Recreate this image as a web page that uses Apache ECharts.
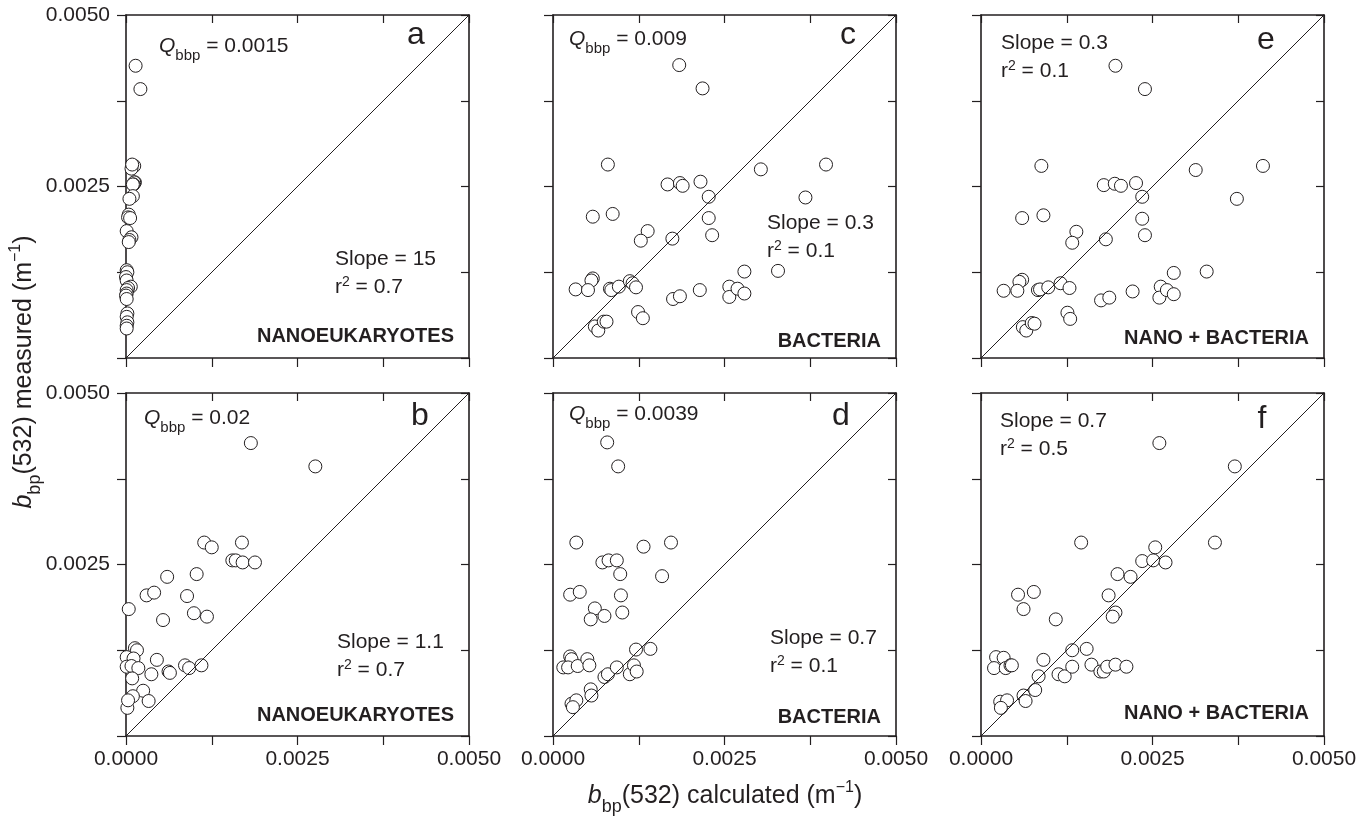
<!DOCTYPE html>
<html>
<head>
<meta charset="utf-8">
<title>bbp(532) measured vs calculated</title>
<script src="https://cdn.jsdelivr.net/npm/echarts@6/dist/echarts.min.js"></script>
<style>
  html, body { margin: 0; padding: 0; background: #fff; }
  #main { width: 1363px; height: 816px; }
</style>
</head>
<body>
<div id="main"></div>
<script>
// shared axis range for every panel (m^-1)
const axisRange = [0, 0.005];
const tickStep = 0.00125;
const oneToOne = [[0, 0], [0.005, 0.005]];

// [calculated, measured]
const nanoA = [
  [0.00014, 0.00426], [0.00021, 0.00392], [0.00012, 0.00280], [0.00008, 0.00276], [0.00009, 0.00282],
  [0.00013, 0.00256], [0.00012, 0.00256], [0.00011, 0.00253], [0.00010, 0.00253], [0.00010, 0.00236],
  [0.00005, 0.00232], [0.00004, 0.00209], [0.00003, 0.00205], [0.00006, 0.00204], [0.00001, 0.00185],
  [0.00008, 0.00176], [0.00005, 0.00172], [0.00004, 0.00169], [0.00001, 0.00128], [0.00002, 0.00125],
  [0.00000, 0.00118], [0.00001, 0.00113], [0.00007, 0.00104], [0.00003, 0.00102], [0.00001, 0.00099],
  [0.00001, 0.00094], [0.00000, 0.00091], [0.00001, 0.00086], [0.00002, 0.00065], [0.00001, 0.00060],
  [0.00002, 0.00052], [0.00001, 0.00047], [0.00001, 0.00043]
];
const nanoB = [
  [0.00182, 0.00427], [0.00276, 0.00393], [0.00114, 0.00282], [0.00125, 0.00275], [0.00169, 0.00282],
  [0.00155, 0.00256], [0.00160, 0.00256], [0.00170, 0.00253], [0.00188, 0.00253], [0.00060, 0.00232],
  [0.00103, 0.00236], [0.00030, 0.00205], [0.00041, 0.00209], [0.00089, 0.00204], [0.00004, 0.00185],
  [0.00099, 0.00179], [0.00118, 0.00174], [0.00054, 0.00169], [0.00013, 0.00128], [0.00016, 0.00125],
  [0.00001, 0.00115], [0.00011, 0.00113], [0.00001, 0.00101], [0.00008, 0.00102], [0.00018, 0.00099],
  [0.00045, 0.00111], [0.00037, 0.00090], [0.00062, 0.00094], [0.00064, 0.00092], [0.00086, 0.00103],
  [0.00092, 0.00099], [0.00110, 0.00103], [0.00009, 0.00084], [0.00025, 0.00066], [0.00010, 0.00058],
  [0.00033, 0.00051], [0.00002, 0.00041], [0.00003, 0.00052]
];
const bactC = [
  [0.00184, 0.00427], [0.00218, 0.00393], [0.00080, 0.00282], [0.00303, 0.00275], [0.00398, 0.00282],
  [0.00167, 0.00253], [0.00185, 0.00255], [0.00189, 0.00251], [0.00215, 0.00257], [0.00227, 0.00235],
  [0.00368, 0.00234], [0.00058, 0.00206], [0.00087, 0.00210], [0.00227, 0.00204], [0.00138, 0.00185],
  [0.00128, 0.00171], [0.00174, 0.00174], [0.00232, 0.00179], [0.00279, 0.00126], [0.00328, 0.00127],
  [0.00058, 0.00116], [0.00056, 0.00113], [0.00033, 0.00100], [0.00051, 0.00099], [0.00083, 0.00101],
  [0.00085, 0.00099], [0.00096, 0.00104], [0.00112, 0.00112], [0.00116, 0.00109], [0.00121, 0.00103],
  [0.00175, 0.00086], [0.00185, 0.00090], [0.00214, 0.00099], [0.00257, 0.00104], [0.00257, 0.00089],
  [0.00269, 0.00101], [0.00279, 0.00094], [0.00124, 0.00067], [0.00131, 0.00058], [0.00061, 0.00046],
  [0.00066, 0.00040], [0.00074, 0.00053], [0.00078, 0.00053]
];
const bactD = [
  [0.00079, 0.00428], [0.00095, 0.00393], [0.00034, 0.00282], [0.00132, 0.00276], [0.00172, 0.00282],
  [0.00072, 0.00253], [0.00081, 0.00256], [0.00093, 0.00256], [0.00098, 0.00236], [0.00159, 0.00233],
  [0.00025, 0.00206], [0.00039, 0.00210], [0.00099, 0.00205], [0.00061, 0.00186], [0.00055, 0.00170],
  [0.00075, 0.00175], [0.00101, 0.00180], [0.00121, 0.00126], [0.00142, 0.00127], [0.00025, 0.00116],
  [0.00027, 0.00112], [0.00015, 0.00100], [0.00022, 0.00100], [0.00036, 0.00102], [0.00050, 0.00112],
  [0.00053, 0.00103], [0.00075, 0.00086], [0.00080, 0.00090], [0.00093, 0.00100], [0.00112, 0.00090],
  [0.00118, 0.00103], [0.00122, 0.00094], [0.00055, 0.00068], [0.00056, 0.00059], [0.00027, 0.00047],
  [0.00034, 0.00052], [0.00029, 0.00042]
];
const sumE = [
  [0.00196, 0.00426], [0.00239, 0.00392], [0.00088, 0.00280], [0.00313, 0.00274], [0.00411, 0.00280],
  [0.00179, 0.00252], [0.00195, 0.00254], [0.00204, 0.00251], [0.00226, 0.00255], [0.00235, 0.00235],
  [0.00373, 0.00232], [0.00060, 0.00204], [0.00091, 0.00208], [0.00235, 0.00203], [0.00139, 0.00184],
  [0.00133, 0.00168], [0.00182, 0.00173], [0.00239, 0.00179], [0.00281, 0.00124], [0.00329, 0.00126],
  [0.00060, 0.00114], [0.00056, 0.00111], [0.00033, 0.00098], [0.00053, 0.00098], [0.00083, 0.00099],
  [0.00086, 0.00100], [0.00098, 0.00103], [0.00116, 0.00109], [0.00129, 0.00102], [0.00175, 0.00084],
  [0.00187, 0.00088], [0.00221, 0.00097], [0.00262, 0.00104], [0.00260, 0.00088], [0.00271, 0.00099],
  [0.00281, 0.00093], [0.00126, 0.00066], [0.00130, 0.00057], [0.00061, 0.00045], [0.00066, 0.00040],
  [0.00074, 0.00051], [0.00078, 0.00050]
];
const sumF = [
  [0.00260, 0.00427], [0.00370, 0.00393], [0.00146, 0.00282], [0.00341, 0.00282], [0.00254, 0.00275],
  [0.00235, 0.00255], [0.00251, 0.00256], [0.00269, 0.00253], [0.00199, 0.00236], [0.00218, 0.00232],
  [0.00054, 0.00206], [0.00077, 0.00210], [0.00186, 0.00205], [0.00062, 0.00185], [0.00109, 0.00170],
  [0.00196, 0.00180], [0.00192, 0.00174], [0.00133, 0.00125], [0.00154, 0.00127], [0.00022, 0.00115],
  [0.00033, 0.00114], [0.00019, 0.00099], [0.00036, 0.00099], [0.00043, 0.00103], [0.00045, 0.00103],
  [0.00091, 0.00111], [0.00084, 0.00087], [0.00113, 0.00090], [0.00122, 0.00087], [0.00133, 0.00101],
  [0.00161, 0.00104], [0.00174, 0.00094], [0.00179, 0.00094], [0.00184, 0.00101], [0.00196, 0.00104],
  [0.00212, 0.00101], [0.00062, 0.00059], [0.00079, 0.00067], [0.00065, 0.00051], [0.00028, 0.00050],
  [0.00038, 0.00052], [0.00029, 0.00041]
];

const INK = '#231f20';
const FONT = '"Liberation Sans", Arial, Helvetica, sans-serif';
const SIZE = 343;

// layout + annotation text for each panel
const panels = [
  { data: nanoA, left: 126, top: 15, letter: 'a', lx: 290, ly: 20, q: '0.0015', qx: 33, qy: 31,
    slope: '15', r2: '0.7', sx: 209, sy: 244, group: 'NANOEUKARYOTES', gy: 321 },
  { data: nanoB, left: 126, top: 393, letter: 'b', lx: 294, ly: 23, q: '0.02', qx: 18, qy: 25,
    slope: '1.1', r2: '0.7', sx: 211, sy: 249, group: 'NANOEUKARYOTES', gy: 322 },
  { data: bactC, left: 553, top: 15, letter: 'c', lx: 295, ly: 20, q: '0.009', qx: 16, qy: 24,
    slope: '0.3', r2: '0.1', sx: 214, sy: 208, group: 'BACTERIA', gy: 326 },
  { data: bactD, left: 553, top: 393, letter: 'd', lx: 288, ly: 23, q: '0.0039', qx: 16, qy: 21,
    slope: '0.7', r2: '0.1', sx: 217, sy: 245, group: 'BACTERIA', gy: 324 },
  { data: sumE, left: 981, top: 15, letter: 'e', lx: 285, ly: 25, q: null,
    slope: '0.3', r2: '0.1', sx: 20, sy: 28, group: 'NANO + BACTERIA', gy: 323 },
  { data: sumF, left: 981, top: 393, letter: 'f', lx: 281, ly: 26, q: null,
    slope: '0.7', r2: '0.5', sx: 19, sy: 28, group: 'NANO + BACTERIA', gy: 320 }
];

// sub/superscripts: padding pushes the raised text down a little
const smallRich = {
  n: { fontFamily: FONT, fontSize: 21, lineHeight: 34, fill: INK },
  qi: { fontFamily: FONT, fontSize: 21, fontStyle: 'italic', lineHeight: 34, fill: INK },
  sub: { fontFamily: FONT, fontSize: 15, verticalAlign: 'bottom', fill: INK },
  sup: { fontFamily: FONT, fontSize: 14, verticalAlign: 'top', padding: [5, 0, 0, 0], fill: INK }
};
const titleRich = {
  n: { fontFamily: FONT, fontSize: 25, lineHeight: 40, fill: INK },
  bi: { fontFamily: FONT, fontSize: 25, fontStyle: 'italic', lineHeight: 40, fill: INK },
  sub: { fontFamily: FONT, fontSize: 18, verticalAlign: 'bottom', fill: INK },
  sup: { fontFamily: FONT, fontSize: 16, verticalAlign: 'top', padding: [4, 0, 0, 0], fill: INK }
};

function xTickLabel(v) {
  return Math.round(v / tickStep) % 2 === 0 ? v.toFixed(4) : '';
}
// the y axes leave out the zero label
function yTickLabel(v) {
  const k = Math.round(v / tickStep);
  return k > 0 && k % 2 === 0 ? v.toFixed(4) : '';
}

function makeAxis(dim, i, position, labels) {
  const outer = position === 'bottom' || position === 'left';
  return {
    type: 'value',
    gridIndex: i,
    position: position,
    min: axisRange[0],
    max: axisRange[1],
    interval: tickStep,
    axisLine: { show: true, onZero: false, lineStyle: { color: INK, width: 1.6 } },
    axisTick: { show: true, inside: !outer, length: outer ? 9 : 8, lineStyle: { color: INK, width: 1.2 } },
    axisLabel: {
      show: labels,
      margin: dim === 'x' ? 13 : 16,
      fontSize: 21,
      fontFamily: FONT,
      color: INK,
      showMinLabel: true,
      showMaxLabel: true,
      formatter: dim === 'x' ? xTickLabel : yTickLabel
    },
    splitLine: { show: false }
  };
}

function richText(x, y, text, rich, extra) {
  return {
    type: 'text', x: x, y: y, silent: true,
    style: Object.assign({ text: text, rich: rich, fill: INK, align: 'left', verticalAlign: 'middle',
      fontFamily: FONT, fontSize: 21 }, extra || {})
  };
}

const grids = [], xAxes = [], yAxes = [], series = [], graphics = [];

panels.forEach(function (p, i) {
  const bottomRow = p.top > 300;
  const firstCol = p.left < 200;
  grids.push({ left: p.left, top: p.top, width: SIZE, height: SIZE });
  xAxes.push(makeAxis('x', i, 'bottom', bottomRow));
  xAxes.push(makeAxis('x', i, 'top', false));
  yAxes.push(makeAxis('y', i, 'left', firstCol));
  yAxes.push(makeAxis('y', i, 'right', false));

  series.push({
    type: 'line', xAxisIndex: 2 * i, yAxisIndex: 2 * i, data: oneToOne,
    symbol: 'none', silent: true, lineStyle: { color: INK, width: 1 }
  });
  series.push({
    type: 'scatter', xAxisIndex: 2 * i, yAxisIndex: 2 * i, data: p.data,
    symbol: 'circle', symbolSize: 13,
    itemStyle: { color: '#fff', borderColor: INK, borderWidth: 1, opacity: 1 }
  });

  if (p.q) {
    graphics.push(richText(p.left + p.qx, p.top + p.qy, '{qi|Q}{sub|bbp}{n| = ' + p.q + '}', smallRich));
  }
  graphics.push(richText(p.left + p.sx, p.top + p.sy, '{n|Slope = ' + p.slope + '}', smallRich));
  graphics.push(richText(p.left + p.sx, p.top + p.sy + 28, '{n|r}{sup|2}{n| = ' + p.r2 + '}', smallRich));
  graphics.push({
    type: 'text', x: p.left + p.lx, y: p.top + p.ly, silent: true,
    style: { text: p.letter, fill: INK, fontFamily: FONT, fontSize: 32, align: 'center', verticalAlign: 'middle' }
  });
  graphics.push({
    type: 'text', x: p.left + SIZE - 15, y: p.top + p.gy, silent: true,
    style: { text: p.group, fill: INK, fontFamily: FONT, fontSize: 20, fontWeight: 'bold', align: 'right', verticalAlign: 'middle' }
  });
});

// shared axis titles
graphics.push(richText(725, 796, '{bi|b}{sub|bp}{n|(532) calculated (m}{sup|\u22121}{n|)}', titleRich, { align: 'center' }));
graphics.push(Object.assign(
  richText(24, 372, '{bi|b}{sub|bp}{n|(532) measured (m}{sup|\u22121}{n|)}', titleRich, { align: 'center' }),
  { rotation: Math.PI / 2 }
));

const myChart = echarts.init(document.getElementById('main'));
let option = {
  animation: false,
  backgroundColor: '#fff',
  grid: grids,
  xAxis: xAxes,
  yAxis: yAxes,
  series: series,
  graphic: graphics
};
myChart.setOption(option);
</script>
</body>
</html>
